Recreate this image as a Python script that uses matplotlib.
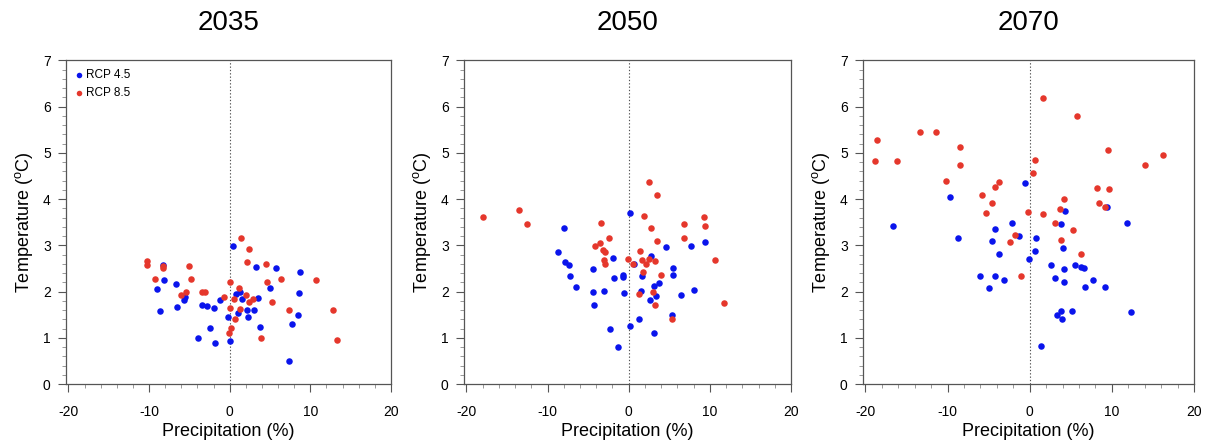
import numpy as np
import matplotlib
matplotlib.use('Agg')
import matplotlib.pyplot as plt
from matplotlib.ticker import MultipleLocator

plt.rcParams['font.family'] = ['Liberation Sans', 'DejaVu Sans']
plt.rcParams['mathtext.fontset'] = 'custom'
plt.rcParams['mathtext.rm'] = 'Liberation Sans'
plt.rcParams['mathtext.it'] = 'Liberation Sans'
plt.rcParams['axes.unicode_minus'] = False

years = ['2035', '2050', '2070']

# 2035
p45_2035 = [0.41, 3.3, 5.7, 8.76, 4.96, 8.6, 3.5, 0.83, 1.24, 1.57, 2.15, 3.0, 2.3, 1.03, -0.25,
            3.7, 8.5, 7.7, 7.36, 0.0, -1.78, -2.48, -3.88, -1.98, -2.81, -3.47, -1.16, -5.62,
            -5.58, -6.5, -6.65, -8.14, -8.26, -8.97, -8.68]
t45_2035 = [2.99, 2.54, 2.52, 2.42, 2.07, 1.96, 1.87, 1.95, 1.98, 1.83, 1.60, 1.60, 1.46, 1.53, 1.44,
            1.23, 1.49, 1.30, 0.50, 0.92, 0.88, 1.21, 1.00, 1.64, 1.68, 1.72, 1.82, 1.81,
            1.88, 1.67, 2.16, 2.25, 2.58, 2.06, 1.57]
p85_2035 = [1.45, 2.4, 2.19, 4.55, 6.36, 4.63, 10.66, 12.8, 13.3, 7.31, 5.2, 3.84, 2.9, 2.36, 2.07,
            1.12, 1.24, 0.5, 0.62, 0.21, -0.04, 0.0, 0.0, -0.66, -3.06, -3.43, -5.45, -6.1,
            -4.83, -5.04, -8.3, -8.26, -9.3, -10.25, -10.2]
t85_2035 = [3.15, 2.93, 2.63, 2.60, 2.28, 2.21, 2.25, 1.60, 0.95, 1.60, 1.77, 1.00, 1.85, 1.78, 1.93,
            2.08, 1.63, 1.85, 1.40, 1.22, 1.10, 1.64, 2.20, 1.88, 1.98, 2.00, 1.98, 1.93,
            2.28, 2.55, 2.50, 2.55, 2.28, 2.67, 2.57]

# 2050
p45_2050 = [0.17, -7.98, -8.72, -7.81, -7.4, -7.19, -6.53, -4.42, -4.46, -4.3, -3.06, -1.98, -1.86,
            -0.66, -0.66, -0.62, -2.36, -1.32, 0.12, 1.28, 3.06, 5.29, 2.6, 3.31, 3.1, 1.53, 3.72,
            1.65, 2.77, 0.66, 4.55, 5.5, 5.45, 6.49, 8.02, 7.64, 9.46]
t45_2050 = [3.71, 3.38, 2.86, 2.63, 2.58, 2.34, 2.09, 2.49, 1.99, 1.70, 2.01, 2.73, 2.30,
            2.35, 2.31, 1.96, 1.20, 0.79, 1.26, 1.41, 1.10, 1.49, 1.82, 1.90, 2.11, 2.02, 2.18,
            2.34, 2.76, 2.60, 2.97, 2.51, 2.36, 1.93, 2.04, 2.99, 3.07]
p85_2050 = [-17.98, -13.5, -12.48, -3.39, -3.55, -4.17, -2.48, -3.22, -2.98, -3.02, -2.89, -0.12,
            0.58, 2.52, 3.43, 1.9, 2.69, 3.47, 1.4, 1.65, 2.07, 2.44, 3.22, 1.82, 3.93, 1.28,
            3.02, 3.26, 5.29, 6.82, 6.86, 9.3, 9.42, 10.58, 11.74]
t85_2050 = [3.61, 3.77, 3.46, 3.49, 3.05, 2.98, 3.16, 2.91, 2.86, 2.68, 2.60, 2.71,
            2.60, 4.37, 4.08, 3.64, 3.38, 3.10, 2.87, 2.69, 2.60, 2.70, 2.66, 2.43, 2.36, 1.95,
            2.00, 1.71, 1.41, 3.46, 3.15, 3.61, 3.41, 2.68, 1.75]

# 2070
p45_2070 = [-16.65, -9.71, -8.72, -0.62, -2.15, -4.26, -4.59, -3.76, -1.36, -6.07, -4.17, -3.1,
            -5.0, -0.12, 0.62, 0.79, 1.4, 2.6, 3.06, 3.31, 3.8, 3.93, 5.12, 3.84, 4.34, 4.09,
            4.17, 4.17, 5.54, 6.28, 6.65, 6.69, 7.73, 9.13, 9.46, 11.82, 12.36]
t45_2070 = [3.41, 4.05, 3.15, 4.34, 3.49, 3.35, 3.10, 2.82, 3.21, 2.34, 2.34, 2.26,
            2.08, 2.71, 2.88, 3.17, 0.82, 2.58, 2.29, 1.49, 1.59, 1.40, 1.57, 3.47, 3.74, 2.94,
            2.49, 2.20, 2.58, 2.53, 2.52, 2.09, 2.24, 2.10, 3.83, 3.48, 1.55]
p85_2070 = [-18.88, -18.6, -16.2, -13.39, -11.4, -8.43, -8.47, -10.25, -3.8, -4.21, -5.83, -4.59,
            -5.29, -1.74, -2.44, -1.07, -0.17, 0.37, 0.7, 1.65, 5.74, 1.61, 3.02, 3.64, 4.17,
            3.84, 5.29, 6.24, 8.22, 8.43, 9.21, 9.63, 9.55, 14.05, 16.24]
t85_2070 = [4.83, 5.28, 4.82, 5.45, 5.46, 5.12, 4.73, 4.39, 4.37, 4.26, 4.08, 3.91,
            3.71, 3.23, 3.08, 2.33, 3.72, 4.57, 4.85, 6.18, 5.79, 3.67, 3.48, 3.79, 4.00,
            3.12, 3.33, 2.81, 4.25, 3.91, 3.82, 4.23, 5.07, 4.74, 4.95]

precip45 = [p45_2035, p45_2050, p45_2070]
temp45 = [t45_2035, t45_2050, t45_2070]
precip85 = [p85_2035, p85_2050, p85_2070]
temp85 = [t85_2035, t85_2050, t85_2070]

blue = '#0a14ec'
red = '#e5372c'
axcol = '#555555'

fig = plt.figure(figsize=(12.06, 4.44), dpi=100)
W, H = 1206.0, 444.0
lefts = [66, 464, 863]
rights = [391, 791, 1194]
top, bottom = 60.5, 384

for i in range(3):
    ax = fig.add_axes([lefts[i] / W, (H - bottom) / H,
                       (rights[i] - lefts[i]) / W, (bottom - top) / H])
    ax.axvline(0, color='#555555', lw=0.8, ls=(0, (1.2, 1.8)), zorder=1)
    ax.scatter(precip45[i], temp45[i], s=22, color=blue, linewidths=0, zorder=3, label='RCP 4.5')
    ax.scatter(precip85[i], temp85[i], s=22, color=red, linewidths=0, zorder=3, label='RCP 8.5')
    ax.set_xlim(-20.3, 20)
    ax.set_ylim(0, 7)
    ax.xaxis.set_major_locator(MultipleLocator(10))
    ax.xaxis.set_minor_locator(MultipleLocator(2))
    ax.yaxis.set_major_locator(MultipleLocator(1))
    ax.yaxis.set_minor_locator(MultipleLocator(0.2))
    ax.tick_params(which='major', direction='out', length=6, width=0.8, color=axcol,
                   labelsize=10, pad=5)
    ax.tick_params(axis='x', which='major', pad=9)
    ax.tick_params(which='minor', direction='out', length=3, width=0.6, color='#888888')
    for sp in ax.spines.values():
        sp.set_color(axcol)
        sp.set_linewidth(0.9)
    ax.set_title(years[i], fontsize=20, pad=22)
    ax.set_xlabel('Precipitation (%)', fontsize=13, labelpad=3)
    ax.set_ylabel(r'Temperature ($^{\mathrm{o}}$C)', fontsize=13, labelpad=6)
    if i == 0:
        ax.legend(loc='upper left', frameon=False, fontsize=8.5, markerscale=0.85,
                  handletextpad=0.2, borderaxespad=0.3, labelspacing=0.55,
                  handlelength=0.8, borderpad=0.4)

fig.savefig('out.png', dpi=100)
